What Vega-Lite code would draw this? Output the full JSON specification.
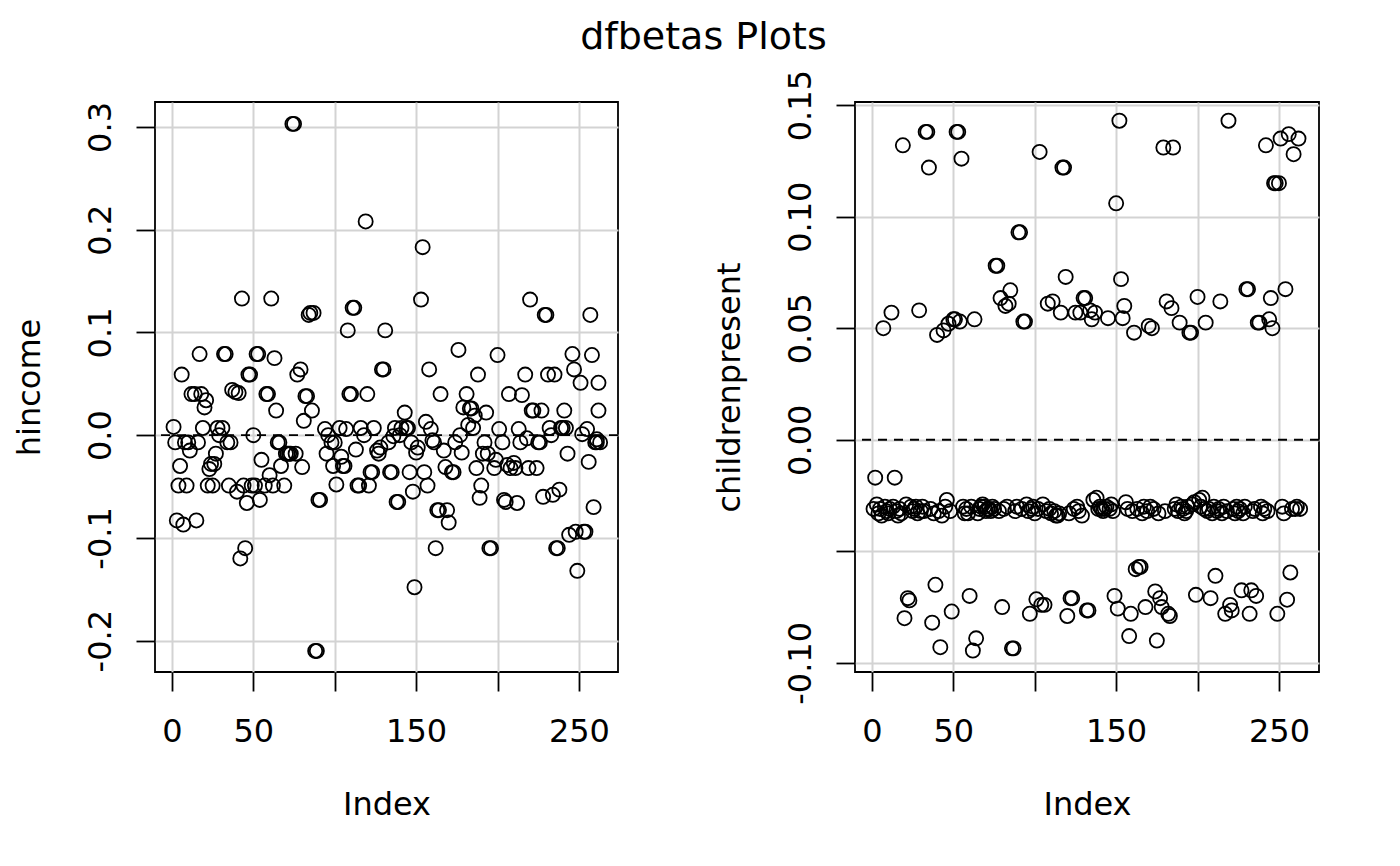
{
  "$schema": "https://vega.github.io/schema/vega-lite/v6.json",
  "background": "white",
  "padding": {"left": 12, "top": 18, "right": 5, "bottom": 5},
  "title": {
    "text": "dfbetas Plots",
    "font": "DejaVu Sans",
    "fontSize": 38,
    "fontWeight": "normal",
    "color": "black",
    "anchor": "middle",
    "dx": 37,
    "offset": 12
  },
  "bounds": "flush",
  "spacing": 237,
  "datasets": {
    "hincome": [
      {"i":1,"v":0.008},{"i":2,"v":-0.007},{"i":3,"v":-0.083},{"i":4,"v":-0.049},{"i":5,"v":-0.030},{"i":6,"v":0.059},
      {"i":7,"v":-0.087},{"i":8,"v":-0.007},{"i":9,"v":-0.049},{"i":10,"v":-0.007},{"i":11,"v":-0.015},{"i":12,"v":0.040},
      {"i":14,"v":0.040},{"i":15,"v":-0.083},{"i":16,"v":-0.007},{"i":17,"v":0.079},{"i":18,"v":0.040},{"i":19,"v":0.007},
      {"i":20,"v":0.027},{"i":21,"v":0.034},{"i":22,"v":-0.049},{"i":23,"v":-0.033},{"i":24,"v":-0.028},{"i":25,"v":-0.049},
      {"i":26,"v":-0.028},{"i":27,"v":-0.018},{"i":28,"v":0.007},{"i":29,"v":0.000},{"i":31,"v":0.007},{"i":32,"v":0.079},
      {"i":33,"v":0.079},{"i":34,"v":-0.007},{"i":35,"v":-0.049},{"i":36,"v":-0.007},{"i":37,"v":0.044},{"i":39,"v":0.042},
      {"i":40,"v":-0.055},{"i":41,"v":0.041},{"i":42,"v":-0.120},{"i":43,"v":0.133},{"i":44,"v":-0.049},{"i":45,"v":-0.110},
      {"i":46,"v":-0.066},{"i":47,"v":0.059},{"i":48,"v":0.059},{"i":49,"v":-0.049},{"i":50,"v":0.000},{"i":51,"v":-0.049},
      {"i":52,"v":0.079},{"i":53,"v":0.079},{"i":54,"v":-0.063},{"i":55,"v":-0.024},{"i":57,"v":-0.049},{"i":58,"v":0.040},
      {"i":59,"v":0.040},{"i":60,"v":-0.039},{"i":61,"v":0.133},{"i":62,"v":-0.049},{"i":63,"v":0.075},{"i":64,"v":0.024},
      {"i":65,"v":-0.007},{"i":66,"v":-0.007},{"i":67,"v":-0.030},{"i":69,"v":-0.049},{"i":70,"v":-0.018},{"i":71,"v":-0.018},
      {"i":72,"v":-0.018},{"i":73,"v":-0.018},{"i":74,"v":0.303},{"i":75,"v":0.303},{"i":76,"v":-0.018},{"i":77,"v":0.059},
      {"i":79,"v":0.064},{"i":80,"v":-0.031},{"i":81,"v":0.014},{"i":82,"v":0.038},{"i":83,"v":0.038},{"i":84,"v":0.117},
      {"i":85,"v":0.119},{"i":86,"v":0.024},{"i":87,"v":0.119},{"i":88,"v":-0.210},{"i":89,"v":-0.210},{"i":90,"v":-0.063},
      {"i":91,"v":-0.063},{"i":94,"v":0.006},{"i":95,"v":-0.018},{"i":96,"v":0.000},{"i":98,"v":-0.007},{"i":99,"v":-0.030},
      {"i":100,"v":-0.007},{"i":101,"v":-0.048},{"i":103,"v":0.007},{"i":104,"v":-0.021},{"i":105,"v":-0.030},{"i":106,"v":-0.030},
      {"i":107,"v":0.006},{"i":108,"v":0.102},{"i":109,"v":0.040},{"i":110,"v":0.040},{"i":111,"v":0.124},{"i":112,"v":0.124},
      {"i":113,"v":-0.014},{"i":114,"v":-0.049},{"i":115,"v":-0.049},{"i":116,"v":0.007},{"i":118,"v":0.000},{"i":119,"v":0.208},
      {"i":120,"v":0.040},{"i":121,"v":-0.049},{"i":122,"v":-0.036},{"i":123,"v":-0.036},{"i":124,"v":0.007},{"i":126,"v":-0.015},
      {"i":127,"v":-0.018},{"i":128,"v":-0.012},{"i":129,"v":0.064},{"i":130,"v":0.064},{"i":131,"v":0.102},{"i":133,"v":-0.007},
      {"i":134,"v":-0.036},{"i":135,"v":-0.036},{"i":136,"v":-0.001},{"i":137,"v":0.007},{"i":138,"v":-0.065},{"i":139,"v":-0.065},
      {"i":140,"v":0.000},{"i":141,"v":0.007},{"i":143,"v":0.022},{"i":144,"v":0.007},{"i":145,"v":0.007},{"i":146,"v":-0.036},
      {"i":147,"v":-0.007},{"i":148,"v":-0.055},{"i":149,"v":-0.148},{"i":150,"v":-0.017},{"i":151,"v":-0.012},{"i":153,"v":0.132},
      {"i":154,"v":0.183},{"i":155,"v":-0.036},{"i":156,"v":0.013},{"i":157,"v":-0.049},{"i":158,"v":0.064},{"i":159,"v":0.006},
      {"i":160,"v":-0.005},{"i":161,"v":-0.007},{"i":162,"v":-0.110},{"i":163,"v":-0.073},{"i":164,"v":-0.073},{"i":165,"v":0.040},
      {"i":167,"v":-0.015},{"i":168,"v":-0.031},{"i":169,"v":-0.073},{"i":170,"v":-0.085},{"i":172,"v":-0.036},{"i":173,"v":-0.036},
      {"i":174,"v":-0.007},{"i":176,"v":0.083},{"i":177,"v":0.000},{"i":178,"v":-0.017},{"i":179,"v":0.027},{"i":181,"v":0.040},
      {"i":182,"v":0.010},{"i":183,"v":0.026},{"i":184,"v":0.026},{"i":185,"v":0.007},{"i":186,"v":0.019},{"i":187,"v":-0.032},
      {"i":188,"v":0.059},{"i":189,"v":-0.061},{"i":190,"v":-0.049},{"i":191,"v":-0.018},{"i":192,"v":-0.007},{"i":193,"v":0.022},
      {"i":194,"v":-0.018},{"i":195,"v":-0.110},{"i":196,"v":-0.110},{"i":198,"v":-0.032},{"i":199,"v":-0.024},{"i":200,"v":0.078},
      {"i":201,"v":0.006},{"i":203,"v":-0.007},{"i":204,"v":-0.063},{"i":205,"v":-0.065},{"i":206,"v":-0.029},{"i":207,"v":0.040},
      {"i":208,"v":-0.032},{"i":210,"v":-0.027},{"i":211,"v":-0.032},{"i":212,"v":-0.066},{"i":213,"v":0.006},{"i":214,"v":-0.007},
      {"i":215,"v":0.039},{"i":217,"v":0.059},{"i":218,"v":-0.003},{"i":219,"v":-0.032},{"i":220,"v":0.132},{"i":221,"v":0.024},
      {"i":222,"v":0.024},{"i":224,"v":-0.032},{"i":225,"v":-0.007},{"i":226,"v":-0.007},{"i":227,"v":0.024},{"i":228,"v":-0.060},
      {"i":229,"v":0.117},{"i":230,"v":0.117},{"i":231,"v":0.059},{"i":232,"v":0.007},{"i":233,"v":0.000},{"i":234,"v":-0.058},
      {"i":235,"v":0.059},{"i":236,"v":-0.110},{"i":237,"v":-0.110},{"i":238,"v":-0.053},{"i":239,"v":0.007},{"i":240,"v":0.007},
      {"i":241,"v":0.024},{"i":242,"v":0.007},{"i":243,"v":-0.018},{"i":244,"v":-0.097},{"i":246,"v":0.079},{"i":247,"v":0.064},
      {"i":248,"v":-0.094},{"i":249,"v":-0.132},{"i":251,"v":0.051},{"i":252,"v":0.001},{"i":253,"v":-0.094},{"i":254,"v":-0.094},
      {"i":255,"v":0.006},{"i":256,"v":-0.026},{"i":257,"v":0.117},{"i":258,"v":0.078},{"i":259,"v":-0.070},{"i":260,"v":-0.007},
      {"i":261,"v":-0.007},{"i":261,"v":-0.004},{"i":262,"v":0.024},{"i":262,"v":0.051},{"i":263,"v":-0.007}
    ],
    "childrenpresent": [
      {"i":1,"v":-0.031},{"i":2,"v":-0.017},{"i":3,"v":-0.029},{"i":4,"v":-0.033},{"i":5,"v":-0.031},{"i":6,"v":-0.034},
      {"i":7,"v":0.050},{"i":8,"v":-0.030},{"i":9,"v":-0.032},{"i":10,"v":-0.033},{"i":11,"v":-0.031},{"i":12,"v":0.057},
      {"i":13,"v":-0.030},{"i":14,"v":-0.017},{"i":15,"v":-0.032},{"i":16,"v":-0.034},{"i":17,"v":-0.031},{"i":18,"v":-0.033},
      {"i":19,"v":0.132},{"i":20,"v":-0.080},{"i":21,"v":-0.029},{"i":22,"v":-0.071},{"i":23,"v":-0.072},{"i":24,"v":-0.030},
      {"i":25,"v":-0.032},{"i":26,"v":-0.031},{"i":27,"v":-0.030},{"i":28,"v":-0.033},{"i":29,"v":0.058},{"i":30,"v":-0.032},
      {"i":31,"v":-0.030},{"i":32,"v":-0.032},{"i":33,"v":0.138},{"i":34,"v":0.138},{"i":35,"v":0.122},{"i":36,"v":-0.031},
      {"i":37,"v":-0.082},{"i":38,"v":-0.033},{"i":39,"v":-0.065},{"i":40,"v":0.047},{"i":41,"v":-0.032},{"i":42,"v":-0.093},
      {"i":43,"v":-0.034},{"i":44,"v":0.049},{"i":45,"v":-0.030},{"i":46,"v":-0.027},{"i":47,"v":0.052},{"i":48,"v":-0.032},
      {"i":49,"v":-0.077},{"i":50,"v":0.054},{"i":51,"v":0.054},{"i":52,"v":0.138},{"i":53,"v":0.138},{"i":54,"v":0.053},
      {"i":55,"v":0.126},{"i":56,"v":-0.030},{"i":57,"v":-0.033},{"i":58,"v":-0.031},{"i":59,"v":-0.033},{"i":60,"v":-0.070},
      {"i":61,"v":-0.030},{"i":62,"v":-0.0945},{"i":63,"v":0.054},{"i":64,"v":-0.089},{"i":65,"v":-0.033},{"i":66,"v":-0.031},
      {"i":67,"v":-0.030},{"i":68,"v":-0.029},{"i":69,"v":-0.030},{"i":70,"v":-0.032},{"i":71,"v":-0.031},{"i":72,"v":-0.031},
      {"i":73,"v":-0.032},{"i":74,"v":-0.030},{"i":75,"v":-0.031},{"i":76,"v":0.078},{"i":77,"v":0.078},{"i":78,"v":-0.032},
      {"i":79,"v":0.0635},{"i":80,"v":-0.075},{"i":81,"v":-0.031},{"i":82,"v":0.060},{"i":83,"v":-0.030},{"i":84,"v":0.061},
      {"i":85,"v":0.067},{"i":86,"v":-0.0935},{"i":87,"v":-0.0935},{"i":88,"v":-0.032},{"i":89,"v":-0.030},{"i":90,"v":0.093},
      {"i":91,"v":0.093},{"i":92,"v":-0.031},{"i":93,"v":0.053},{"i":94,"v":0.053},{"i":95,"v":-0.029},{"i":96,"v":-0.032},
      {"i":97,"v":-0.078},{"i":98,"v":-0.031},{"i":99,"v":-0.030},{"i":100,"v":-0.033},{"i":101,"v":-0.0715},{"i":102,"v":-0.031},
      {"i":103,"v":0.129},{"i":104,"v":-0.074},{"i":105,"v":-0.029},{"i":106,"v":-0.074},{"i":107,"v":-0.032},{"i":108,"v":0.061},
      {"i":109,"v":-0.031},{"i":110,"v":-0.033},{"i":111,"v":0.062},{"i":112,"v":-0.032},{"i":113,"v":-0.034},{"i":114,"v":-0.034},
      {"i":115,"v":-0.033},{"i":116,"v":0.057},{"i":117,"v":0.122},{"i":118,"v":0.122},{"i":119,"v":0.073},{"i":120,"v":-0.079},
      {"i":121,"v":-0.033},{"i":122,"v":-0.071},{"i":123,"v":-0.071},{"i":124,"v":-0.031},{"i":125,"v":0.057},{"i":126,"v":-0.030},
      {"i":127,"v":-0.032},{"i":128,"v":0.057},{"i":129,"v":-0.034},{"i":130,"v":0.0635},{"i":131,"v":0.0635},{"i":132,"v":-0.0765},
      {"i":133,"v":-0.0765},{"i":134,"v":0.058},{"i":135,"v":0.054},{"i":136,"v":-0.027},{"i":137,"v":0.057},{"i":138,"v":-0.026},
      {"i":139,"v":-0.031},{"i":140,"v":-0.030},{"i":141,"v":-0.031},{"i":142,"v":-0.032},{"i":143,"v":-0.031},{"i":144,"v":-0.030},
      {"i":145,"v":0.0545},{"i":146,"v":-0.031},{"i":147,"v":-0.029},{"i":148,"v":-0.032},{"i":149,"v":-0.070},{"i":150,"v":0.106},
      {"i":151,"v":-0.0757},{"i":152,"v":0.143},{"i":153,"v":0.072},{"i":154,"v":0.0545},{"i":155,"v":0.060},{"i":156,"v":-0.028},
      {"i":157,"v":-0.031},{"i":158,"v":-0.088},{"i":159,"v":-0.078},{"i":160,"v":-0.032},{"i":161,"v":0.048},{"i":162,"v":-0.058},
      {"i":163,"v":-0.031},{"i":164,"v":-0.057},{"i":165,"v":-0.057},{"i":166,"v":-0.033},{"i":167,"v":-0.030},{"i":168,"v":-0.075},
      {"i":169,"v":-0.032},{"i":170,"v":0.051},{"i":171,"v":-0.030},{"i":172,"v":0.050},{"i":173,"v":-0.031},{"i":174,"v":-0.068},
      {"i":175,"v":-0.090},{"i":176,"v":-0.033},{"i":177,"v":-0.071},{"i":178,"v":-0.075},{"i":179,"v":0.131},{"i":180,"v":-0.032},
      {"i":181,"v":0.062},{"i":182,"v":-0.078},{"i":183,"v":-0.079},{"i":184,"v":0.059},{"i":185,"v":0.131},{"i":186,"v":-0.031},
      {"i":187,"v":-0.029},{"i":188,"v":-0.032},{"i":189,"v":0.0525},{"i":190,"v":-0.030},{"i":191,"v":-0.031},{"i":192,"v":-0.033},
      {"i":193,"v":-0.032},{"i":194,"v":-0.030},{"i":195,"v":0.048},{"i":196,"v":0.048},{"i":197,"v":-0.029},{"i":198,"v":-0.028},
      {"i":199,"v":-0.0695},{"i":200,"v":0.064},{"i":201,"v":-0.027},{"i":202,"v":-0.030},{"i":203,"v":-0.026},{"i":204,"v":-0.031},
      {"i":205,"v":0.0525},{"i":206,"v":-0.032},{"i":207,"v":-0.031},{"i":208,"v":-0.071},{"i":209,"v":-0.033},{"i":210,"v":-0.030},
      {"i":211,"v":-0.061},{"i":212,"v":-0.032},{"i":213,"v":-0.031},{"i":214,"v":0.062},{"i":215,"v":-0.033},{"i":216,"v":-0.030},
      {"i":217,"v":-0.078},{"i":218,"v":-0.032},{"i":219,"v":0.143},{"i":220,"v":-0.074},{"i":221,"v":-0.0765},{"i":222,"v":-0.031},
      {"i":223,"v":-0.033},{"i":224,"v":-0.030},{"i":225,"v":-0.032},{"i":226,"v":-0.031},{"i":227,"v":-0.0675},{"i":228,"v":-0.033},
      {"i":229,"v":-0.030},{"i":230,"v":0.0675},{"i":231,"v":0.0675},{"i":232,"v":-0.078},{"i":233,"v":-0.0675},{"i":234,"v":-0.032},
      {"i":235,"v":-0.031},{"i":236,"v":-0.070},{"i":237,"v":0.0525},{"i":238,"v":0.0525},{"i":239,"v":-0.030},{"i":240,"v":-0.033},
      {"i":241,"v":-0.031},{"i":242,"v":0.132},{"i":243,"v":-0.032},{"i":244,"v":0.054},{"i":245,"v":0.0635},{"i":246,"v":0.050},
      {"i":247,"v":0.115},{"i":248,"v":0.115},{"i":249,"v":-0.078},{"i":250,"v":0.115},{"i":251,"v":0.135},{"i":252,"v":-0.030},
      {"i":253,"v":-0.033},{"i":254,"v":0.0675},{"i":255,"v":-0.0717},{"i":256,"v":0.137},{"i":257,"v":-0.0595},{"i":258,"v":-0.031},
      {"i":259,"v":0.128},{"i":260,"v":-0.031},{"i":261,"v":-0.030},{"i":262,"v":0.135},{"i":263,"v":-0.031}
    ]
  },
  "hconcat": [
    {
      "width": 463,
      "height": 570,
      "layer": [
        {
          "data": {"values": [{}]},
          "mark": {"type": "rule", "color": "black", "strokeWidth": 1.8, "strokeDash": [9, 7]},
          "encoding": {
            "y": {"datum": 0, "type": "quantitative", "scale": {"domain": [-0.2305, 0.3243], "nice": false, "zero": false}}
          }
        },
        {
          "data": {"name": "hincome"},
          "mark": {"type": "point", "shape": "circle", "filled": false, "color": "black", "strokeWidth": 1.8, "size": 200, "opacity": 1},
          "encoding": {
            "x": {
              "field": "i", "type": "quantitative", "title": "Index",
              "scale": {"domain": [-10.4, 274], "nice": false, "zero": false},
              "axis": {"values": [0, 50, 100, 150, 200, 250], "labelExpr": "datum.value == 100 || datum.value == 200 ? '' : datum.label"}
            },
            "y": {
              "field": "v", "type": "quantitative", "title": "hincome",
              "scale": {"domain": [-0.2305, 0.3243], "nice": false, "zero": false},
              "axis": {"values": [-0.2, -0.1, 0, 0.1, 0.2, 0.3], "format": ".1f", "labelExpr": "replace(datum.label, '\u2212', '-')"}
            }
          }
        }
      ]
    },
    {
      "width": 464,
      "height": 570,
      "layer": [
        {
          "data": {"values": [{}]},
          "mark": {"type": "rule", "color": "black", "strokeWidth": 1.8, "strokeDash": [9, 7]},
          "encoding": {
            "y": {"datum": 0, "type": "quantitative", "scale": {"domain": [-0.1041, 0.1514], "nice": false, "zero": false}}
          }
        },
        {
          "data": {"name": "childrenpresent"},
          "mark": {"type": "point", "shape": "circle", "filled": false, "color": "black", "strokeWidth": 1.8, "size": 200, "opacity": 1},
          "encoding": {
            "x": {
              "field": "i", "type": "quantitative", "title": "Index",
              "scale": {"domain": [-10.4, 274.6], "nice": false, "zero": false},
              "axis": {"values": [0, 50, 100, 150, 200, 250], "labelExpr": "datum.value == 100 || datum.value == 200 ? '' : datum.label"}
            },
            "y": {
              "field": "v", "type": "quantitative", "title": "childrenpresent",
              "scale": {"domain": [-0.1041, 0.1514], "nice": false, "zero": false},
              "axis": {"values": [-0.1, -0.05, 0, 0.05, 0.1, 0.15], "format": ".2f", "labelExpr": "abs(datum.value + 0.05) < 1e-9 ? '' : replace(datum.label, '\u2212', '-')"}
            }
          }
        }
      ]
    }
  ],
  "config": {
    "font": "DejaVu Sans",
    "view": {"stroke": "black", "strokeWidth": 1.8},
    "axis": {
      "domain": false,
      "grid": true,
      "gridColor": "#d3d3d3",
      "gridWidth": 2,
      "tickColor": "black",
      "tickWidth": 1.8,
      "tickSize": 19,
      "labelFont": "DejaVu Sans",
      "titleFont": "DejaVu Sans",
      "labelFontSize": 32,
      "titleFontSize": 32,
      "labelColor": "black",
      "titleColor": "black",
      "titleFontWeight": "normal",
      "labelFlush": false,
      "labelOverlap": false
    },
    "axisX": {"labelPadding": 25, "titlePadding": 42},
    "axisY": {"labelAngle": 270, "labelAlign": "center", "labelBaseline": "bottom", "labelPadding": 19, "titlePadding": 38}
  }
}
